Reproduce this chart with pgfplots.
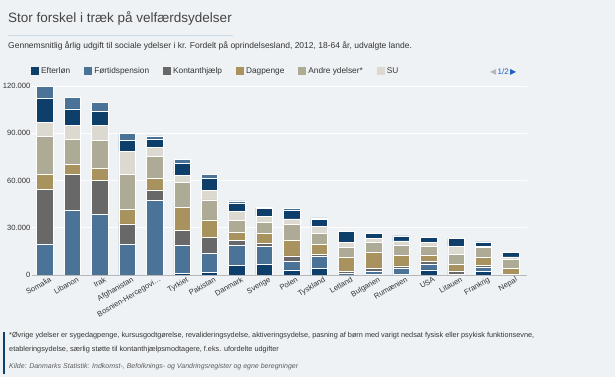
\documentclass[border=0pt]{standalone}
\usepackage{pgfplots}
\pgfplotsset{compat=1.18}
\usepackage{pgfplotstable}
\usepackage{fontspec}
\setmainfont{Liberation Sans}
\newfontfamily\symfont{DejaVu Sans}
\definecolor{bg}{HTML}{EEF2F5}
\definecolor{cEft}{HTML}{0E3F6B}
\definecolor{cFor}{HTML}{4B7398}
\definecolor{cKon}{HTML}{686868}
\definecolor{cDag}{HTML}{A8935E}
\definecolor{cAnd}{HTML}{ADAB96}
\definecolor{cSU}{HTML}{DCDAD0}
\definecolor{txt}{HTML}{333333}
\definecolor{titlegrey}{HTML}{444444}
\definecolor{underl}{HTML}{C9DCEB}
\definecolor{axisgrey}{HTML}{B5B8BB}
\definecolor{navblue}{HTML}{1D5FC0}

\pgfplotstableread{
x eft for kon dag and su s7 s8
0 0 19700 34700 9500 23900 9300 15000 7800
1 0 40800 23100 6300 15900 8700 10600 7400
2 0 38700 21200 7600 17800 9900 8500 5700
3 0 19700 12700 9500 22000 14800 7000 4200
4 0 47400 6600 7400 14000 5700 5300 1900
5 1000 18000 9100 14800 16100 4400 7400 2500
6 1500 12300 10200 11000 12700 5900 7800 2500
7 5900 12700 3200 5300 7400 5700 5300 1500
8 6800 11200 2300 6100 6800 4200 4900 500
9 3200 5700 3200 9700 10400 3400 5700 1000
10 4200 7400 1700 6100 7000 4700 4200 1000
11 0 1000 1500 8500 6600 3000 7000 0
12 500 2100 1500 10200 6300 2500 3400 0
13 500 3600 1700 6800 6600 2500 3200 0
14 3200 3800 1500 4200 5300 2500 3200 0
15 0 500 2100 4200 6300 4900 5100 0
16 2500 2300 1500 4900 6300 800 2700 0
17 0 0 500 3600 5900 1500 2700 0
}\data

\begin{document}
\begin{tikzpicture}[x=1pt,y=1pt]
\fill[bg] (0,0) rectangle (615,377);
\node[anchor=base west, font=\fontsize{13.5}{15}\selectfont, text=titlegrey, inner sep=0] at (8,354) {Stor forskel i træk på velfærdsydelser};
\draw[underl, line width=0.8pt] (8,342) -- (233,342);
\node[anchor=base west, font=\fontsize{8.5}{10}\selectfont, text=txt, inner sep=0] at (8,328) {Gennemsnitlig årlig udgift til sociale ydelser i kr. Fordelt på oprindelsesland, 2012, 18-64 år, udvalgte lande.};

\begin{axis}[
  at={(45pt,102pt)}, anchor=origin,
  scale only axis, width=495pt, height=189pt,
  ybar stacked, bar width=16.5pt,
  xmin=-0.474, xmax=17.59, ymin=0, ymax=120000,
  ytick={0,30000,60000,90000,120000},
  yticklabels={0,30.000,60.000,90.000,120.000},
  scaled y ticks=false,
  yticklabel style={font=\fontsize{7.6}{9}\selectfont, text=txt, inner sep=1.5pt},
  xtick={0,1,2,3,4,5,6,7,8,9,10,11,12,13,14,15,16,17},
  xticklabels={Somalia, Libanon, Irak, Afghanistan, {Bosnien-Hercegovi\ldots}, Tyrkiet, Pakistan, Danmark, Sverige, Polen, Tyskland, Letland, Bulgarien, Rumænien, USA, Litauen, Frankrig, Nepal},
  xticklabel style={font=\fontsize{7.6}{9}\selectfont, text=txt, rotate=30, anchor=north east, inner sep=0pt, xshift=3pt, yshift=-3pt},
  major tick length=0pt,
  axis x line*=bottom, axis y line*=left,
  x axis line style={-, draw=axisgrey, line width=0.8pt},
  y axis line style={draw=none},
  ymajorgrids, major grid style={white, line width=0.8pt},
  every axis plot/.append style={draw=white, line width=0.5pt},
  legend style={at={(0,1)}, anchor=south west, yshift=7pt, xshift=-4pt, draw=none, fill=none,
    font=\fontsize{8.3}{10}\selectfont, text=txt, legend columns=6,
    /tikz/every even column/.append style={column sep=12pt}},
  legend image code/.code={\fill[#1, draw=none] (0pt,-3.5pt) rectangle (8pt,4.5pt);},
]
\addplot[fill=cEft] table[x=x, y=eft] {\data};
\addplot[fill=cFor] table[x=x, y=for] {\data};
\addplot[fill=cKon] table[x=x, y=kon] {\data};
\addplot[fill=cDag] table[x=x, y=dag] {\data};
\addplot[fill=cAnd] table[x=x, y=and] {\data};
\addplot[fill=cSU] table[x=x, y=su] {\data};
\addplot[fill=cEft, forget plot] table[x=x, y=s7] {\data};
\addplot[fill=cFor, forget plot] table[x=x, y=s8] {\data};
\legend{Efterløn, Førtidspension, Kontanthjælp, Dagpenge, Andre ydelser*, SU}
\end{axis}

\node[anchor=base west, font=\fontsize{8}{9}\selectfont, inner sep=0] at (490,302) {{\symfont\textcolor{axisgrey}{◀}}\,\textcolor{navblue}{1/2}\,{\symfont\textcolor{navblue}{▶}}};

\fill[cEft] (2.5,3) rectangle (5,45);
\node[anchor=base west, font=\fontsize{7.3}{9}\selectfont, text=txt, inner sep=0] at (9,39.5) {*Øvrige ydelser er sygedagpenge, kursusgodtgørelse, revalideringsydelse, aktiveringsydelse, pasning af børn med varigt nedsat fysisk eller psykisk funktionsevne,};
\node[anchor=base west, font=\fontsize{7.3}{9}\selectfont, text=txt, inner sep=0] at (9,25.5) {etableringsydelse, særlig støtte til kontanthjælpsmodtagere, f.eks. ufordelte udgifter};
\node[anchor=base west, font=\fontsize{7}{9}\selectfont\itshape, text=txt!80, inner sep=0] at (9,8) {Kilde: Danmarks Statistik: Indkomst-, Befolknings- og Vandringsregister og egne beregninger};
\pgfresetboundingbox
\useasboundingbox (0,0) rectangle (615,377);
\end{tikzpicture}
\end{document}
